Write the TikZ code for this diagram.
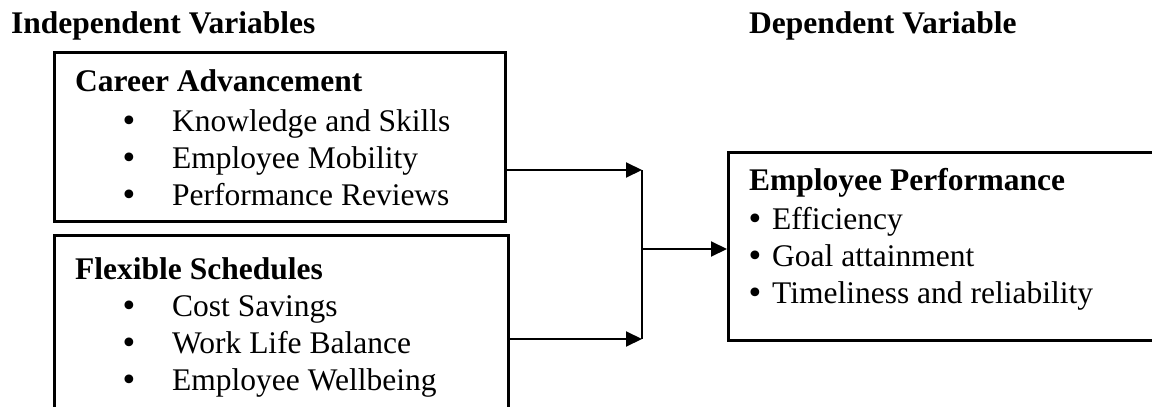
\documentclass[tikz,border=0pt]{standalone}
\usepackage{fontspec}
\setmainfont{Liberation Serif}
\newfontfamily\bulfont{DejaVu Sans}
\usetikzlibrary{arrows.meta}
\begin{document}
\begin{tikzpicture}[x=1pt,y=-1pt,
  txt/.style={anchor=base west, inner sep=0pt, font=\fontsize{31.5}{37}\selectfont},
  ttl/.style={anchor=base west, inner sep=0pt, font=\fontsize{31.5}{37}\selectfont\bfseries},
  bul/.style={anchor=base west, inner sep=0pt, font=\fontsize{30}{36}\bulfont, text height=14pt, text depth=0pt},
  box/.style={draw, line width=2.5pt, anchor=north west, inner sep=0pt},
  conn/.style={line width=2pt, -{Triangle[length=16pt,width=15pt]}}]
\useasboundingbox (0,0) rectangle (1152,407);
\clip (0,0) rectangle (1152,407);
% headings
\node[ttl] (hi) at (11,33) {Independent Variables};
\node[ttl] (hd) at (749,33) {Dependent Variable};
% boxes
\node[box, minimum width=451pt, minimum height=169pt] (b1) at (53,51) {};
\node[box, minimum width=454pt, minimum height=200pt] (b2) at (53,234) {};
\node[box, minimum width=450pt, minimum height=188pt] (b3) at (727,151) {};
% box 1 text
\node[ttl] (t1) at (75,91) {Career Advancement};
\node[bul] (u11) at (120,131) {•};
\node[txt] (i11) at (172,131) {Knowledge and Skills};
\node[bul] (u12) at (120,168) {•};
\node[txt] (i12) at (172,168) {Employee Mobility};
\node[bul] (u13) at (120,205) {•};
\node[txt] (i13) at (172,205) {Performance Reviews};
% box 2 text
\node[ttl] (t2) at (75,279) {Flexible Schedules};
\node[bul] (u21) at (120,316) {•};
\node[txt] (i21) at (172,316) {Cost Savings};
\node[bul] (u22) at (120,353) {•};
\node[txt] (i22) at (172,353) {Work Life Balance};
\node[bul] (u23) at (120,390) {•};
\node[txt] (i23) at (172,390) {Employee Wellbeing};
% box 3 text
\node[ttl] (t3) at (749,190) {Employee Performance};
\node[bul] (u31) at (746,229) {•};
\node[txt] (i31) at (772,229) {Efficiency};
\node[bul] (u32) at (746,266) {•};
\node[txt] (i32) at (772,266) {Goal attainment};
\node[bul] (u33) at (746,303) {•};
\node[txt] (i33) at (772,303) {Timeliness and reliability};
% connectors
\coordinate (j1) at (642,170);
\coordinate (j2) at (642,339);
\coordinate (jm) at (642,249);
\draw[conn] (b1.east |- j1) -- (j1);
\draw[conn] (b2.east |- j2) -- (j2);
\draw[line width=1.3pt] (j1) -- (j2);
\draw[conn] (jm) -- (b3.west |- jm);
\end{tikzpicture}
\end{document}
